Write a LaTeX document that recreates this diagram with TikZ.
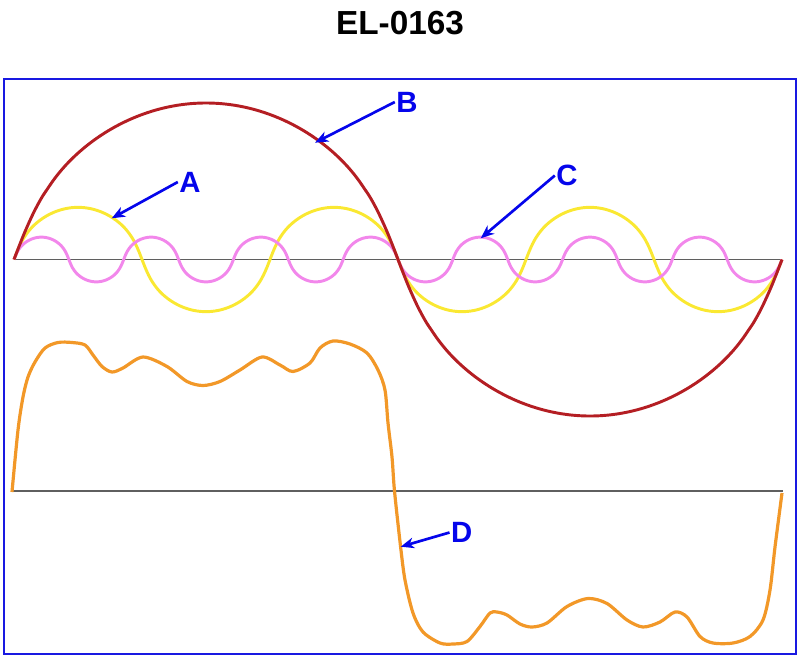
\documentclass[tikz,border=0pt]{standalone}
\usepackage{fontspec}
\setmainfont{Liberation Sans}
\usetikzlibrary{arrows.meta}

\definecolor{framecol}{RGB}{25,25,225}
\definecolor{lblcol}{RGB}{5,5,235}
\definecolor{fundcol}{RGB}{180,30,35}
\definecolor{thirdcol}{RGB}{250,232,50}
\definecolor{seventhcol}{RGB}{242,135,235}
\definecolor{sumcol}{RGB}{242,152,40}
\definecolor{axiscol}{RGB}{95,95,95}

\newcommand*{\xmin}{14}
\newcommand*{\xmax}{782}
\newcommand*{\yaxis}{259.5}
\newcommand*{\ysum}{491}
\newcommand*{\amp}{156.5}
\newcommand*{\phase}{((\x - \xmin) / (\xmax - \xmin) * 360)}

\begin{document}
\begin{tikzpicture}
[
	x=0.75pt,
	y=-0.75pt,
	declare function={fsin(\t)=sin(\t)*((sin(\t)^2+0.06)/1.06)^(-0.25);},
	wave/.style={line width=2.2pt, line join=round},
	pointer/.style={-{Stealth[length=10pt,width=8pt,inset=3pt]}, lblcol, line width=2pt},
	lbl/.style={text=lblcol, inner sep=1pt, font=\bfseries\fontsize{22}{26}\selectfont}
]

	\useasboundingbox (0,0) rectangle (800,661);

	\node[font=\bfseries\fontsize{25}{30}\selectfont] (title) at (400,23.5) {EL-0163};

	\draw[framecol, line width=1.5pt] (3.5,78.5) rectangle (795.5,653.5);

	% axes
	\draw[axiscol, line width=1pt] (\xmin,\yaxis) -- (\xmax,\yaxis);
	\draw[axiscol, line width=1pt] (12,\ysum) -- (783,\ysum);

	% harmonics
	\draw[wave, thirdcol, domain=\xmin:\xmax, samples=241, smooth] plot (\x,{\yaxis - \amp/3 * fsin(3*\phase)});
	\draw[wave, seventhcol, domain=\xmin:\xmax, samples=421, smooth] plot (\x,{\yaxis - \amp/7 * fsin(7*\phase)});
	\draw[wave, fundcol, domain=\xmin:\xmax, samples=161, smooth] plot (\x,{\yaxis - \amp * fsin(\phase)});

	% resulting wave
	\draw[wave, sumcol, line width=2.4pt] plot[smooth, tension=0.5] coordinates {
		(12,492) (18,430) (23,397) (28,377) (35,362) (45,348) (58,342.5) (72,342.5)
		(85,345) (93,355) (102,366.5) (112,372) (123,368) (143,357) (167,366.5)
		(187,381.5) (203,385.5) (220,381.5) (240,370) (262,357) (280,365) (293,371.5)
		(310,363) (320,348) (333,341) (350,344) (367,353) (378,370) (385,390)
		(388,423) (392,457) (394.5,491) (400.5,546) (405,580) (413,613) (423,632)
		(440,643) (453,644) (467,641.5) (480,626.5) (490,613) (497,612) (507,615)
		(520,624) (532,627) (547,623) (567,606.5) (588,598.5) (607,603.5) (627,620)
		(643,627) (660,622) (675,612) (687,617) (700,636.5) (713,643) (733,643)
		(750,636.5) (763,620) (770,590) (775,547) (782,493)};

	% labels
	\coordinate (tipA) at (111.7,218.3);
	\coordinate (tipB) at (315,142.7);
	\coordinate (tipC) at (480.7,238.3);
	\coordinate (tipD) at (400.7,546.7);

	\node[lbl] (labA) at (190,182) {A};
	\node[lbl] (labB) at (407,102) {B};
	\node[lbl] (labC) at (567,175.5) {C};
	\node[lbl] (labD) at (461.7,532.5) {D};

	\draw[pointer] (labA.west) -- (tipA);
	\draw[pointer] (labB.west) -- (tipB);
	\draw[pointer] (labC.west) -- (tipC);
	\draw[pointer] (labD.west) -- (tipD);

\end{tikzpicture}
\end{document}
